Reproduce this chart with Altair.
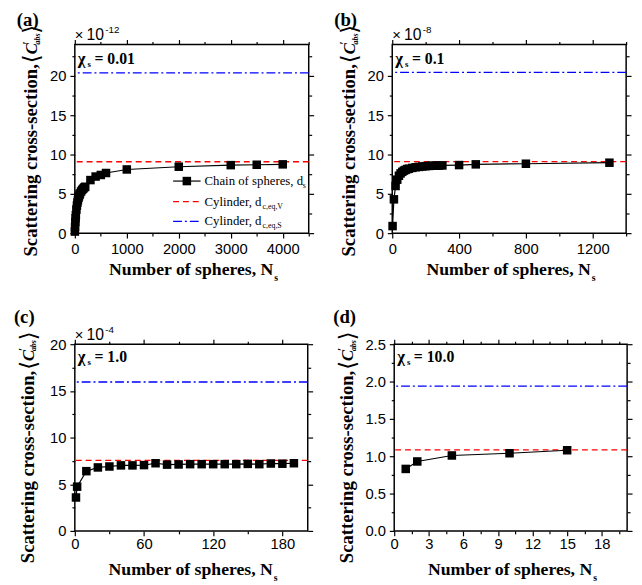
import json
import altair as alt
import pandas as pd

SANS = "Liberation Sans"
SERIF = "Liberation Serif"

# ---------------- data ----------------
# (a) chi_s = 0.01, values x 1e-12
a_N = [1, 5, 10, 15, 20, 30, 40, 50, 60, 70, 80, 90, 100, 120, 140, 160, 180, 200,
       300, 400, 500, 600, 1000, 2000, 3000, 3500, 4000]
a_C = [0.2, 0.8, 1.4, 1.9, 2.3, 3.0, 3.5, 3.9, 4.2, 4.5, 4.7, 4.9, 5.05, 5.3, 5.5, 5.65, 5.8, 5.9,
       6.75, 7.2, 7.4, 7.65, 8.1, 8.45, 8.65, 8.7, 8.75]
a_cylV = 9.08
a_cylS = 20.4
a_xmajor = [0, 1000, 2000, 3000, 4000]
a_xminor = [500, 1500, 2500, 3500, 4500]
a_ymajor = [0, 5, 10, 15, 20]
a_yminor = [2.5, 7.5, 12.5, 17.5, 22.5]

# (b) chi_s = 0.1, values x 1e-8
b_N = [2, 10, 20, 30, 40, 50, 60, 70, 80, 90, 100, 120, 140, 160, 180, 200, 220, 240,
       260, 280, 300, 400, 500, 800, 1300]
b_C = [0.9, 4.3, 6.0, 6.8, 7.3, 7.6, 7.8, 7.95, 8.05, 8.15, 8.2, 8.3, 8.38, 8.43, 8.48, 8.52,
       8.55, 8.57, 8.59, 8.6, 8.61, 8.66, 8.75, 8.83, 8.96]
b_cylV = 9.1
b_cylS = 20.45
b_xmajor = [0, 400, 800, 1200]
b_xminor = [200, 600, 1000, 1400]
b_ymajor = [0, 5, 10, 15, 20]
b_yminor = [2.5, 7.5, 12.5, 17.5, 22.5]

# (c) chi_s = 1.0, values x 1e-4
c_N = [1, 2, 10, 20, 30, 40, 50, 60, 70, 80, 90, 100, 110, 120, 130, 140, 150, 160, 170, 180, 190]
c_C = [3.58, 4.74, 6.4, 6.8, 6.9, 7.02, 7.02, 7.05, 7.25, 7.1, 7.12, 7.15, 7.15, 7.15, 7.15,
       7.15, 7.18, 7.15, 7.22, 7.2, 7.25]
c_cylV = 7.55
c_cylS = 15.95
c_xmajor = [0, 60, 120, 180]
c_xminor = [30, 90, 150]
c_ymajor = [0, 5, 10, 15, 20]
c_yminor = [2.5, 7.5, 12.5, 17.5]

# (d) chi_s = 10.0
d_N = [1, 2, 5, 10, 15]
d_C = [0.83, 0.93, 1.01, 1.04, 1.08]
d_cylV = 1.085
d_cylS = 1.94
d_xmajor = [0, 3, 6, 9, 12, 15, 18]
d_xminor = [1.5, 4.5, 7.5, 10.5, 13.5, 16.5, 19.5]
d_ymajor = [0, 0.5, 1, 1.5, 2, 2.5]
d_yminor = [0.25, 0.75, 1.25, 1.75, 2.25]

ONE = alt.Data(values=[{}])


def txt(s, x, y, size, font=SERIF, weight="normal", style="normal", align="left",
        baseline="alphabetic", angle=None, dx=0, dy=0, color="black"):
    props = dict(text=s, font=font, fontSize=size, fontWeight=weight, fontStyle=style,
                 align=align, baseline=baseline, color=color)
    if angle is not None:
        props["angle"] = angle
    if dx:
        props["dx"] = dx
    if dy:
        props["dy"] = dy
    return alt.Chart(ONE).mark_text(**props).encode(x=alt.value(x), y=alt.value(y))


def axis(orient, major, minor, fmt, labels, pad=3):
    vals = sorted(major + minor)
    maj = json.dumps(major)
    kw = dict(orient=orient, values=vals, title=None, grid=False, domain=False,
              tickColor="black", tickWidth=1.2,
              tickSize={"condition": {"test": f"indexof({maj}, datum.value) < 0", "value": 3},
                        "value": 5},
              labels=labels)
    if labels:
        kw.update(format=fmt,
                  labelExpr=f"indexof({maj}, datum.value) >= 0 ? datum.label : ''",
                  labelFont=SANS, labelFontSize=15, labelColor="black",
                  labelPadding=pad, labelOverlap=False, labelFlush=False)
    return alt.Axis(**kw)


def panel(N, C, cylV, cylS, xdom, ydom, xmaj, xmin, ymaj, ymin, yfmt, W, H, row,
          tag, exp_txt, chi_txt, legend=False):
    df = pd.DataFrame({"N": N, "C": C})
    xs = alt.Scale(domain=xdom, nice=False, zero=False)
    ys = alt.Scale(domain=ydom, nice=False, zero=False)
    xpad, ypad = (4, 4) if row == 1 else (1, 4)
    rV = alt.Chart(pd.DataFrame({"C": [cylV]})).mark_rule(
        color="#ff0000", strokeDash=[6, 4], strokeWidth=1.3).encode(
        y=alt.Y("C:Q", scale=ys, axis=None))
    rS = alt.Chart(pd.DataFrame({"C": [cylS]})).mark_rule(
        color="#0000ff", strokeDash=[9, 3, 2, 3], strokeWidth=1.3).encode(
        y=alt.Y("C:Q", scale=ys, axis=None))
    line = alt.Chart(df).mark_line(color="black", strokeWidth=1.2).encode(
        x=alt.X("N:Q", scale=xs, axis=axis("bottom", xmaj, xmin, "d", True, xpad)),
        y=alt.Y("C:Q", scale=ys, axis=axis("left", ymaj, ymin, yfmt, True, ypad)))
    pts = alt.Chart(df).mark_square(size=75, color="black", opacity=1).encode(
        x=alt.X("N:Q", scale=xs, axis=axis("top", xmaj, xmin, "d", False)),
        y=alt.Y("C:Q", scale=ys, axis=axis("right", ymaj, ymin, yfmt, False)))

    if row == 1:
        lab_x, lab_y, exp_y, chi_y, tx, J, xt = -59, -19, -5, 20, -38, 20, H + 43
    else:
        lab_x, lab_y, exp_y, chi_y, tx, J, xt = -62, -22, -4, 18, -42, 27, H + 45

    ann = [
        txt(tag, lab_x, lab_y, 19, weight="bold"),
        # chi_s label
        txt("\u03c7", 3, chi_y, 17, weight="bold"),
        txt("s", 13, chi_y + 3, 9, weight="bold"),
        txt(chi_txt, 20, chi_y, 16, weight="bold"),
        # x title
        txt("Number of spheres, N", W / 2 + 83, xt, 18, weight="bold", align="right"),
        txt("s", W / 2 + 84, xt + 6, 10, weight="bold"),
        # y title (rotated)
        txt("Scattering cross-section,", tx, J, 19, weight="bold", align="right", angle=270),
        txt("\u27e8", tx + 2, J, 23, font="DejaVu Sans", angle=270, dx=1),
        txt("C", tx, J, 17, weight="bold", style="italic", angle=270, dx=10),
        txt("\u2032", tx, J, 12, weight="bold", angle=270, dx=20, dy=-7),
        txt("abs", tx, J, 8, weight="bold", style="italic", angle=270, dx=20, dy=3),
        txt("\u27e9", tx + 2, J, 23, font="DejaVu Sans", angle=270, dx=31),
    ]
    if exp_txt:
        ann += [
            txt("\u00d7", 0, exp_y, 15, font=SANS),
            txt("10", 12, exp_y, 16, font=SANS),
            txt(exp_txt, 31, exp_y - 7, 10, font=SANS),
        ]
    if legend:
        rows = [139, 160, 180]
        ann += [
            alt.Chart(ONE).mark_rule(color="black", strokeWidth=1.2).encode(
                x=alt.value(100), x2=alt.value(128), y=alt.value(rows[0])),
            alt.Chart(ONE).mark_square(size=75, color="black", opacity=1).encode(
                x=alt.value(114), y=alt.value(rows[0])),
            alt.Chart(ONE).mark_rule(color="#ff0000", strokeDash=[6, 4], strokeWidth=1.3).encode(
                x=alt.value(100), x2=alt.value(128), y=alt.value(rows[1])),
            alt.Chart(ONE).mark_rule(color="#0000ff", strokeDash=[9, 3, 2, 3], strokeWidth=1.3).encode(
                x=alt.value(100), x2=alt.value(128), y=alt.value(rows[2])),
            txt("Chain of spheres, d", 132, rows[0] + 4, 13),
            txt("s", 232, rows[0] + 7, 8),
            txt("Cylinder, d", 132, rows[1] + 4, 13),
            txt("c,eq,V", 191, rows[1] + 7, 8),
            txt("Cylinder, d", 132, rows[2] + 4, 13),
            txt("c,eq,S", 191, rows[2] + 7, 8),
        ]

    return alt.layer(rV, rS, line, pts, *ann).resolve_axis(
        x="independent", y="independent").properties(width=W, height=H)


pa = panel(a_N, a_C, a_cylV, a_cylS, [0, 4500], [0, 24], a_xmajor, a_xminor, a_ymajor, a_yminor,
           "d", 238, 192, 1, "(a)", "-12", "= 0.01", legend=True)
pb = panel(b_N, b_C, b_cylV, b_cylS, [0, 1400], [0, 24], b_xmajor, b_xminor, b_ymajor, b_yminor,
           "d", 238, 192, 1, "(b)", "-8", "= 0.1")
pc = panel(c_N, c_C, c_cylV, c_cylS, [0, 202], [0, 20], c_xmajor, c_xminor, c_ymajor, c_yminor,
           "d", 237, 190, 2, "(c)", "-4", "= 1.0")
pd_ = panel(d_N, d_C, d_cylV, d_cylS, [0, 20.2], [0, 2.5], d_xmajor, d_xminor, d_ymajor, d_yminor,
            ".1f", 237, 190, 2, "(d)", None, "= 10.0")

row1 = alt.hconcat(pa, pb, spacing=18)
row2 = alt.hconcat(pc, pd_, spacing=18)
chart = alt.vconcat(row1, row2, spacing=23).properties(
    padding={"left": 5, "top": -3, "right": 0, "bottom": 0}
).configure_view(stroke="black", strokeWidth=1.5)

chart.save("out.html", embed_options={"renderer": "svg", "actions": False})
